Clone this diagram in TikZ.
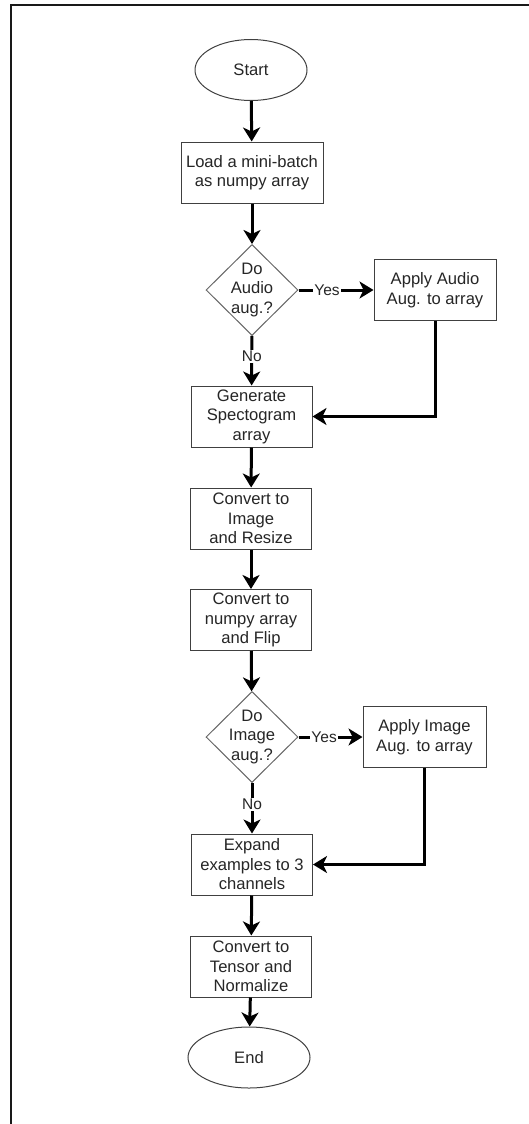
\documentclass[tikz,border=0pt]{standalone}
\usepackage{fontspec}
\setmainfont{Liberation Sans}
\usetikzlibrary{arrows.meta,shapes.geometric}

\begin{document}
\begin{tikzpicture}[x=1pt,y=-1pt,
  txt/.style={font=\fontsize{16.6}{19.5}\selectfont, text=black!85, align=center},
  proc/.style={txt, draw=black!75, line width=1pt, minimum width=121pt,
    minimum height=61pt, inner sep=2pt, fill=white},
  term/.style={txt, ellipse, draw=black!75, line width=1pt, inner sep=0pt,
    minimum height=61pt},
  dec/.style={diamond, draw=black!60, line width=1pt, inner sep=0pt,
    minimum width=92pt, minimum height=91pt},
  flow/.style={line width=3pt, -{Stealth[length=14pt,width=17pt,inset=4pt]}},
  lbl/.style={fill=white, inner sep=1pt, text=black!85,
    font=\fontsize{15.5}{17}\selectfont}
]
\useasboundingbox (0,0) rectangle (528,1124);
% outer frame (left and top edges)
\draw[line width=2.3pt, black!90] (10.7,1130) -- (10.7,4.8) -- (535,4.8);

% main column
\node[term, minimum width=112pt] (start) at (251,70) {Start};
\node[proc, minimum width=142pt] (load) at (252,172.5) {Load a mini-batch\\as numpy array};
\node[dec] (d1) at (252,290) {};
\node[txt] (d1t) at (d1) {Do\\Audio\\aug.?};
\node[proc, minimum width=122pt] (aud) at (435,290) {Apply Audio\\Aug. to array};
\node[proc] (gen) at (251.5,416.5) {Generate\\Spectogram\\array};
\node[proc] (img) at (251,518.5) {Convert to\\Image\\and Resize};
\node[proc] (flip) at (251,620) {Convert to\\numpy array\\and Flip};
\node[dec] (d2) at (252,737) {};
\node[txt] (d2t) at (d2) {Do\\Image\\aug.?};
\node[proc, minimum width=123pt] (iaug) at (424.5,737) {Apply Image\\Aug. to array};
\node[proc] (exp) at (252,864.5) {Expand\\examples to 3\\channels};
\node[proc] (ten) at (251,966.5) {Convert to\\Tensor and\\Normalize};
\node[term, minimum width=122pt] (end) at (249,1057.5) {End};

% connectors
\draw[flow] (start) -- (load);
\draw[flow] (load) -- (d1);
\draw[flow] (d1) -- node[lbl, pos=0.38] (y1) {Yes} (aud);
\draw[flow] (d1) -- node[lbl, pos=0.42] (n1) {No} (gen);
\draw[flow] (aud.south) |- (gen.east);
\draw[flow] (gen) -- (img);
\draw[flow] (img) -- (flip);
\draw[flow] (flip) -- (d2);
\draw[flow] (d2) -- node[lbl, pos=0.40] (y2) {Yes} (iaug);
\draw[flow] (d2) -- node[lbl, pos=0.42] (n2) {No} (exp);
\draw[flow] (iaug.south) |- (exp.east);
\draw[flow] (exp) -- (ten);
\draw[flow] (ten) -- (end);
\end{tikzpicture}
\end{document}
